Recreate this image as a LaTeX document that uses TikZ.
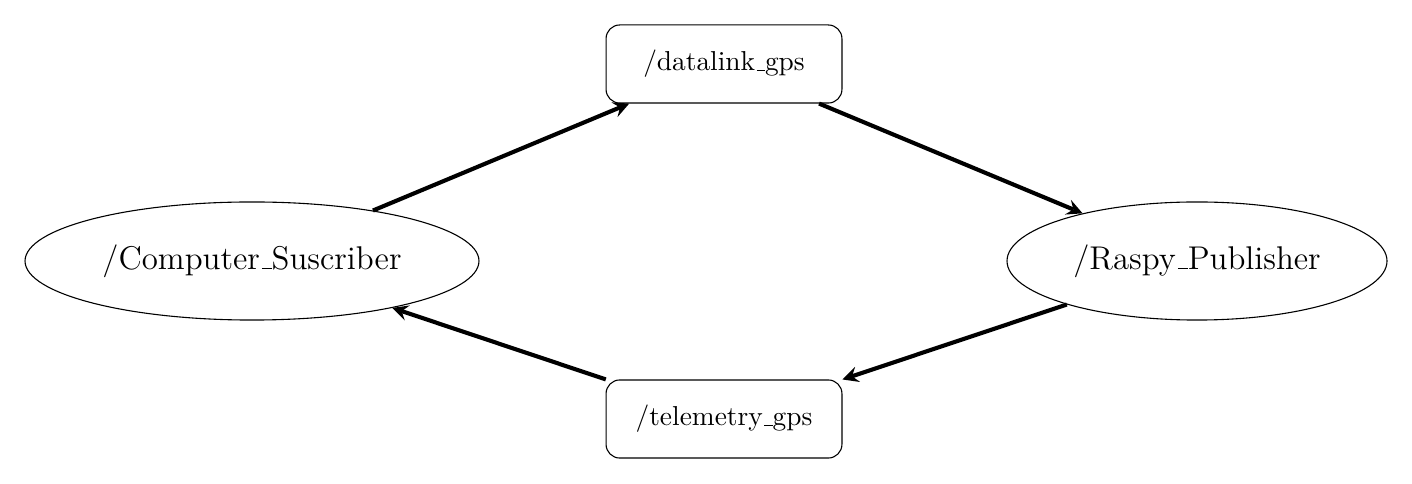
\documentclass[tikz,border=0pt]{standalone}
\usetikzlibrary{shapes.geometric,arrows}
\newcommand\usc{\leavevmode\kern.06em\vbox{\hrule width.3em}}
\begin{document}
\begin{tikzpicture}[x=0.365pt,y=-0.365pt,
  topic/.style={draw,rounded corners=5pt,minimum width=86.1pt,minimum height=28.5pt,inner sep=0pt,font=\normalsize,line width=0.4pt},
  nodeell/.style={draw,ellipse,minimum height=43.1pt,inner sep=0pt,font=\large,line width=0.4pt},
  link/.style={-stealth,line width=1.5pt}]
\useasboundingbox (0,0) rectangle (1412,484);
\node[nodeell,minimum width=165.7pt] (comp) at (252,261) {/Computer\usc Suscriber};
\node[nodeell,minimum width=138.7pt] (rasp) at (1197,261) {/Raspy\usc Publisher};
\node[topic] (dl) at (724,64) {/datalink\usc gps};
\node[topic] (tel) at (724,419) {/telemetry\usc gps};
\draw[link] (comp) -- (dl);
\draw[link] (dl) -- (rasp);
\draw[link] (rasp) -- (tel);
\draw[link] (tel) -- (comp);
\end{tikzpicture}
\end{document}
